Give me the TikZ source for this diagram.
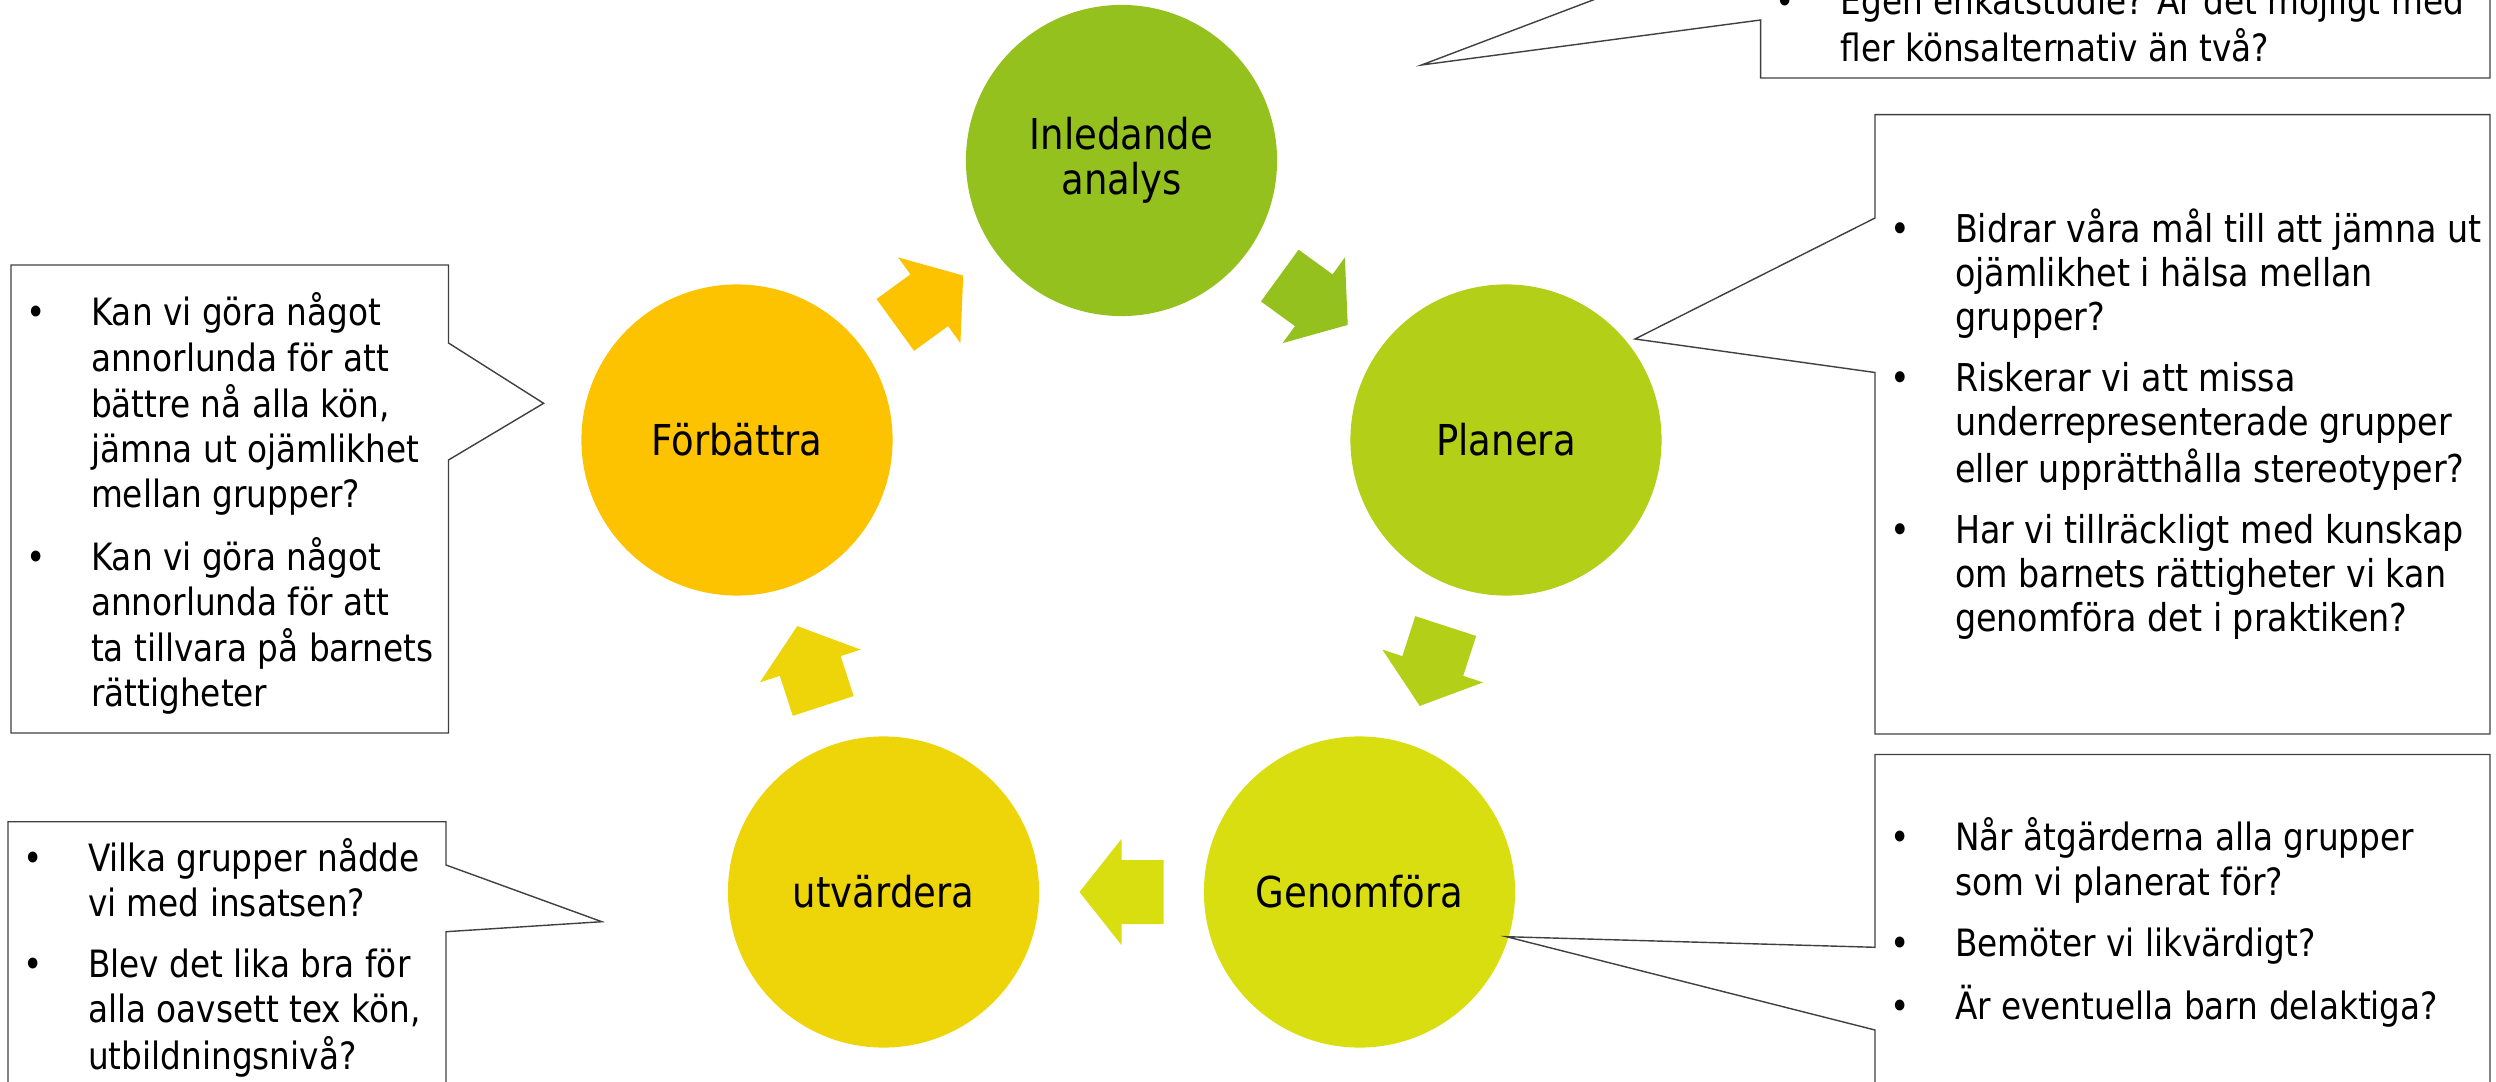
\documentclass[tikz,border=0pt]{standalone}
\usepackage{fontspec}
\setmainfont{DejaVu Sans}[FakeStretch=0.87]
\usetikzlibrary{calc}
\definecolor{c1}{HTML}{95C11F}
\definecolor{c2}{HTML}{B3CF18}
\definecolor{c3}{HTML}{D9DE10}
\definecolor{c4}{HTML}{EDD50A}
\definecolor{c5}{HTML}{FDC300}
\newcommand{\bul}{\makebox[0.8cm][l]{\hspace*{0.25cm}\makebox[0pt]{•}}}
\newcommand{\cyclearrow}[3]{\fill[#1, shift={(#2)}, rotate=#3] (-42,-32) -- (0,-32) -- (0,-53) -- (42,0) -- (0,53) -- (0,32) -- (-42,32) -- cycle;}
\begin{document}
\begin{tikzpicture}[x=0.01cm, y=-0.01cm,
    main/.style = {circle, minimum size=3.11cm, inner sep=0pt, align=center, font=\fontsize{12.1pt}{12.8pt}\selectfont},
    note/.style = {anchor=base west, inner sep=0pt, outer sep=0pt, font=\fontsize{10.7pt}{12.8pt}\selectfont},
    box/.style = {draw=black!75, line width=0.4pt}]
    \useasboundingbox (0,0) rectangle (2496,1082);
    \clip (0,0) rectangle (2496,1082);
    % cycle
    \node[main, fill=c1] (1) at (1121.5,160.5) {Inledande\\analys};
    \node[main, fill=c2] (2) at (1506,440) {Planera};
    \node[main, fill=c3] (3) at (1359.5,892) {Genomföra};
    \node[main, fill=c4] (4) at (883.5,892) {utvärdera};
    \node[main, fill=c5] (5) at (737,440) {Förbättra};
    \cyclearrow{c1}{$(1)!0.5!(2)$}{-36}
    \cyclearrow{c2}{$(2)!0.5!(3)$}{-108}
    \cyclearrow{c3}{$(3)!0.5!(4)$}{180}
    \cyclearrow{c4}{$(4)!0.5!(5)$}{108}
    \cyclearrow{c5}{$(5)!0.5!(1)$}{36}
    % callouts
    \draw[box] (1760.6,-200) -- (2490,-200) -- (2490,78) -- (1760.6,78) -- (1760.6,20) -- (1421.5,65) -- (1760.6,-63.5) -- cycle;
    \draw[box] (1875,114.6) -- (2490,114.6) -- (2490,734) -- (1875,734) -- (1875,372.5) -- (1635,339) -- (1875,218) -- cycle;
    \draw[box] (1875,754.5) -- (2490,754.5) -- (2490,1200) -- (1875,1200) -- (1875,1030) -- (1506.4,936.7) -- (1875,947.3) -- cycle;
    \draw[box] (11,265) -- (448.5,265) -- (448.5,343) -- (543.6,403.3) -- (448.5,460) -- (448.5,733) -- (11,733) -- cycle;
    \draw[box] (8,821.7) -- (446,821.7) -- (446,865) -- (601.8,921.7) -- (446,931.7) -- (446,1200) -- (8,1200) -- cycle;
    \node[note] (t1) at (1760.6,15) {\begin{tabular}[t]{@{}l@{}l@{}}
        \bul & Egen enkätstudie? Är det möjligt med\\
        & fler könsalternativ än två?
    \end{tabular}};
    \node[note, font=\fontsize{10.9pt}{12.5pt}\selectfont] (t2) at (1875,243) {\begin{tabular}[t]{@{}l@{}l@{}}
        \bul & Bidrar våra mål till att jämna ut\\
        & ojämlikhet i hälsa mellan\\
        & grupper?\\[0.17cm]
        \bul & Riskerar vi att missa\\
        & underrepresenterade grupper\\
        & eller upprätthålla stereotyper?\\[0.17cm]
        \bul & Har vi tillräckligt med kunskap\\
        & om barnets rättigheter vi kan\\
        & genomföra det i praktiken?
    \end{tabular}};
    \node[note] (t3) at (1875,850) {\begin{tabular}[t]{@{}l@{}l@{}}
        \bul & Når åtgärderna alla grupper\\
        & som vi planerat för?\\[0.16cm]
        \bul & Bemöter vi likvärdigt?\\[0.16cm]
        \bul & Är eventuella barn delaktiga?
    \end{tabular}};
    \node[note] (t4) at (8,871.7) {\begin{tabular}[t]{@{}l@{}l@{}}
        \bul & Vilka grupper nådde\\
        & vi med insatsen?\\[0.16cm]
        \bul & Blev det lika bra för\\
        & alla oavsett tex kön,\\
        & utbildningsnivå?
    \end{tabular}};
    \node[note] (t5) at (11,326) {\begin{tabular}[t]{@{}l@{}l@{}}
        \bul & Kan vi göra något\\
        & annorlunda för att\\
        & bättre nå alla kön,\\
        & jämna ut ojämlikhet\\
        & mellan grupper?\\[0.16cm]
        \bul & Kan vi göra något\\
        & annorlunda för att\\
        & ta tillvara på barnets\\
        & rättigheter
    \end{tabular}};
\end{tikzpicture}
\end{document}
